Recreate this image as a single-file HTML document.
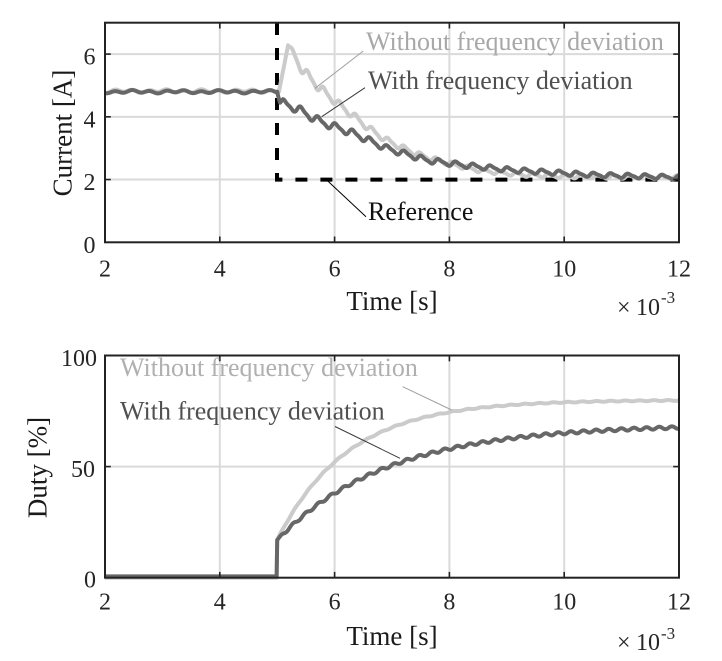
<!DOCTYPE html>
<html><head><meta charset="utf-8"><style>
html,body{margin:0;padding:0;background:#fff;}
svg{display:block;}
text{font-family:"Liberation Serif","Times New Roman",serif;}
</style></head><body>
<svg width="722" height="661" viewBox="0 0 722 661" xmlns="http://www.w3.org/2000/svg">
<rect width="722" height="661" fill="#fff"/>

<!-- ===== TOP PLOT ===== -->
<g stroke="#dadada" stroke-width="2" fill="none">
  <line x1="219.8" y1="22.7" x2="219.8" y2="242.3"/>
  <line x1="334.6" y1="22.7" x2="334.6" y2="242.3"/>
  <line x1="449.4" y1="22.7" x2="449.4" y2="242.3"/>
  <line x1="564.2" y1="22.7" x2="564.2" y2="242.3"/>
  <line x1="105" y1="179.56" x2="679" y2="179.56"/>
  <line x1="105" y1="116.82" x2="679" y2="116.82"/>
  <line x1="105" y1="54.08" x2="679" y2="54.08"/>
</g>
<path d="M277 23 L277 179.6 L679 179.6" fill="none" stroke="#000" stroke-width="4" stroke-dasharray="12 13"/>
<path id="cl" d="" fill="none" stroke="#cbcbcb" stroke-width="4" stroke-linejoin="round"/>
<path id="cd" d="" fill="none" stroke="#676767" stroke-width="4" stroke-linejoin="round"/>

<rect x="105" y="22.7" width="574" height="219.6" fill="none" stroke="#222" stroke-width="2"/>
<g stroke="#222" stroke-width="1.6">
  <line x1="219.8" y1="242.3" x2="219.8" y2="236.5"/>
  <line x1="334.6" y1="242.3" x2="334.6" y2="236.5"/>
  <line x1="449.4" y1="242.3" x2="449.4" y2="236.5"/>
  <line x1="564.2" y1="242.3" x2="564.2" y2="236.5"/>
  <line x1="219.8" y1="22.7" x2="219.8" y2="28.5"/>
  <line x1="334.6" y1="22.7" x2="334.6" y2="28.5"/>
  <line x1="449.4" y1="22.7" x2="449.4" y2="28.5"/>
  <line x1="564.2" y1="22.7" x2="564.2" y2="28.5"/>
  <line x1="105" y1="179.56" x2="110.8" y2="179.56"/>
  <line x1="105" y1="116.82" x2="110.8" y2="116.82"/>
  <line x1="105" y1="54.08" x2="110.8" y2="54.08"/>
  <line x1="679" y1="179.56" x2="673.2" y2="179.56"/>
  <line x1="679" y1="116.82" x2="673.2" y2="116.82"/>
  <line x1="679" y1="54.08" x2="673.2" y2="54.08"/>
</g>

<g font-size="24" fill="#262626">
  <text x="95.5" y="253" text-anchor="end">0</text>
  <text x="95.5" y="190.2" text-anchor="end">2</text>
  <text x="95.5" y="127.4" text-anchor="end">4</text>
  <text x="95.5" y="64.6" text-anchor="end">6</text>
  <text x="105" y="276.5" text-anchor="middle">2</text>
  <text x="219.8" y="276.5" text-anchor="middle">4</text>
  <text x="334.6" y="276.5" text-anchor="middle">6</text>
  <text x="449.4" y="276.5" text-anchor="middle">8</text>
  <text x="564.2" y="276.5" text-anchor="middle">10</text>
  <text x="679" y="276.5" text-anchor="middle">12</text>
  <text x="617" y="315">×</text>
  <text x="636" y="315">10</text>
  <text x="661" y="303" font-size="17">-3</text>
</g>
<text x="392" y="310" font-size="27" fill="#1a1a1a" text-anchor="middle">Time [s]</text>
<text transform="translate(71.5,133) rotate(-90)" font-size="27" fill="#1a1a1a" text-anchor="middle">Current [A]</text>

<line x1="363.3" y1="51" x2="315" y2="88.3" stroke="#a0a0a0" stroke-width="1"/>
<line x1="365" y1="87.7" x2="321.7" y2="116.7" stroke="#3a3a3a" stroke-width="1"/>
<line x1="326.7" y1="180" x2="366" y2="216.7" stroke="#000" stroke-width="1"/>
<text x="366" y="50" font-size="26" fill="#a8a8a8">Without frequency deviation</text>
<text x="368" y="89" font-size="26" fill="#505050">With frequency deviation</text>
<text x="368" y="220" font-size="26" fill="#111">Reference</text>

<!-- ===== BOTTOM PLOT ===== -->
<g stroke="#dadada" stroke-width="2" fill="none">
  <line x1="219.8" y1="355.5" x2="219.8" y2="577.7"/>
  <line x1="334.6" y1="355.5" x2="334.6" y2="577.7"/>
  <line x1="449.4" y1="355.5" x2="449.4" y2="577.7"/>
  <line x1="564.2" y1="355.5" x2="564.2" y2="577.7"/>
  <line x1="105" y1="466.6" x2="679" y2="466.6"/>
</g>
<path id="bl" d="" fill="none" stroke="#cbcbcb" stroke-width="4" stroke-linejoin="round"/>
<path id="bd" d="" fill="none" stroke="#676767" stroke-width="4" stroke-linejoin="round"/>

<rect x="105" y="355.5" width="574" height="222.2" fill="none" stroke="#222" stroke-width="2"/>
<g stroke="#222" stroke-width="1.6">
  <line x1="219.8" y1="577.7" x2="219.8" y2="571.9"/>
  <line x1="334.6" y1="577.7" x2="334.6" y2="571.9"/>
  <line x1="449.4" y1="577.7" x2="449.4" y2="571.9"/>
  <line x1="564.2" y1="577.7" x2="564.2" y2="571.9"/>
  <line x1="219.8" y1="355.5" x2="219.8" y2="361.3"/>
  <line x1="334.6" y1="355.5" x2="334.6" y2="361.3"/>
  <line x1="449.4" y1="355.5" x2="449.4" y2="361.3"/>
  <line x1="564.2" y1="355.5" x2="564.2" y2="361.3"/>
  <line x1="105" y1="466.6" x2="110.8" y2="466.6"/>
  <line x1="679" y1="466.6" x2="673.2" y2="466.6"/>
</g>

<g font-size="24" fill="#262626">
  <text x="96" y="587.5" text-anchor="end">0</text>
  <text x="95" y="477.2" text-anchor="end">50</text>
  <text x="97" y="366" text-anchor="end">100</text>
  <text x="105" y="609.5" text-anchor="middle">2</text>
  <text x="219.8" y="609.5" text-anchor="middle">4</text>
  <text x="334.6" y="609.5" text-anchor="middle">6</text>
  <text x="449.4" y="609.5" text-anchor="middle">8</text>
  <text x="564.2" y="609.5" text-anchor="middle">10</text>
  <text x="679" y="609.5" text-anchor="middle">12</text>
  <text x="617" y="650">×</text>
  <text x="636" y="650">10</text>
  <text x="661" y="639" font-size="17">-3</text>
</g>
<text x="392" y="645" font-size="27" fill="#1a1a1a" text-anchor="middle">Time [s]</text>
<text transform="translate(46.5,467.5) rotate(-90)" font-size="27" fill="#1a1a1a" text-anchor="middle">Duty [%]</text>

<line x1="402.7" y1="386.7" x2="451.7" y2="410" stroke="#a0a0a0" stroke-width="1"/>
<line x1="335" y1="426.5" x2="400" y2="458.3" stroke="#3a3a3a" stroke-width="1"/>
<text x="120" y="376" font-size="26" fill="#b0b0b0">Without frequency deviation</text>
<text x="120" y="419.5" font-size="26" fill="#505050">With frequency deviation</text>
</svg>

<script>
(function(){
var P=2*Math.PI;
function lin(a,t){
  if(t<=a[0][0])return a[0][1];
  for(var i=1;i<a.length;i++){
    if(t<=a[i][0]){var f=(t-a[i-1][0])/(a[i][0]-a[i-1][0]);return a[i-1][1]+f*(a[i][1]-a[i-1][1]);}
  }
  return a[a.length-1][1];
}
function X(t){return 105+57.4*(t-2);}
function YT(v){return 242.3-31.37*v;}
function YB(v){return 577.7-2.222*v;}
function build(fn,Y){
  var s='';
  for(var i=0;i<=1000;i++){
    var t=Math.round((2+i*0.01)*1000)/1000;
    var v=fn(t);
    s+=(i?'L':'M')+X(t).toFixed(2)+' '+Y(v).toFixed(2);
  }
  return s;
}
function w(p){return Math.sin(P*p)+0.3*Math.sin(2*P*p);}
function stair(p){var f=p-Math.floor(p);return (f<0.6?0:(f-0.6)/0.4)+Math.floor(p)-p;}

var LA=[[5.19,6.28],[5.46,5.45],[5.75,4.9],[6.04,4.45],[6.33,4.03],[6.62,3.6],[6.9,3.26],[7.2,3.0],[7.49,2.78],[7.78,2.62],[8.07,2.48],[8.5,2.3],[9.2,2.16],[10,2.1],[12,2.07]];
function IL(t){
  if(t<5.03) return 4.82+0.04*Math.sin(P*t/0.3)+0.02*Math.sin(P*t/0.71);
  if(t<5.19) return 4.8+(t-5.03)/0.16*1.48;
  var A=(0.05+0.1*Math.exp(-(t-5.2)/1.5))*Math.min(1,(t-5.19)/0.1);
  return lin(LA,t)+A*w((t-5.19)/0.28);
}
var DA=[[5.0,4.8],[5.05,4.45],[5.3,4.3],[5.76,3.84],[6.33,3.47],[6.9,3.0],[7.6,2.62],[8.24,2.46],[9.1,2.3],[10.5,2.15],[12,2.07]];
function ID(t){
  if(t<5.0) return 4.8+0.035*Math.sin(P*t/0.3)+0.02*Math.sin(P*t/0.77);
  var A=(0.06+0.07*Math.exp(-(t-5)/2))*Math.min(1,(t-5)/0.1);
  return lin(DA,t)+A*w((t-5.05)/0.3);
}
function DL(t){
  if(t<5.0) return 0;
  return 17+63*(1-Math.exp(-(t-5)/1.23))+0.2*Math.sin(P*t/0.25);
}
function DD(t){
  if(t<5.0) return 0.6;
  var p=(t-5)/0.22;
  return 17+52*(1-Math.exp(-(t-5)/1.93))+0.6*Math.sin(P*p)*Math.min(1,(t-5)/0.1);
}
document.getElementById('cl').setAttribute('d',build(IL,YT));
document.getElementById('cd').setAttribute('d',build(ID,YT));
document.getElementById('bl').setAttribute('d',build(DL,YB));
document.getElementById('bd').setAttribute('d',build(DD,YB));
})();
</script>
</body></html>
